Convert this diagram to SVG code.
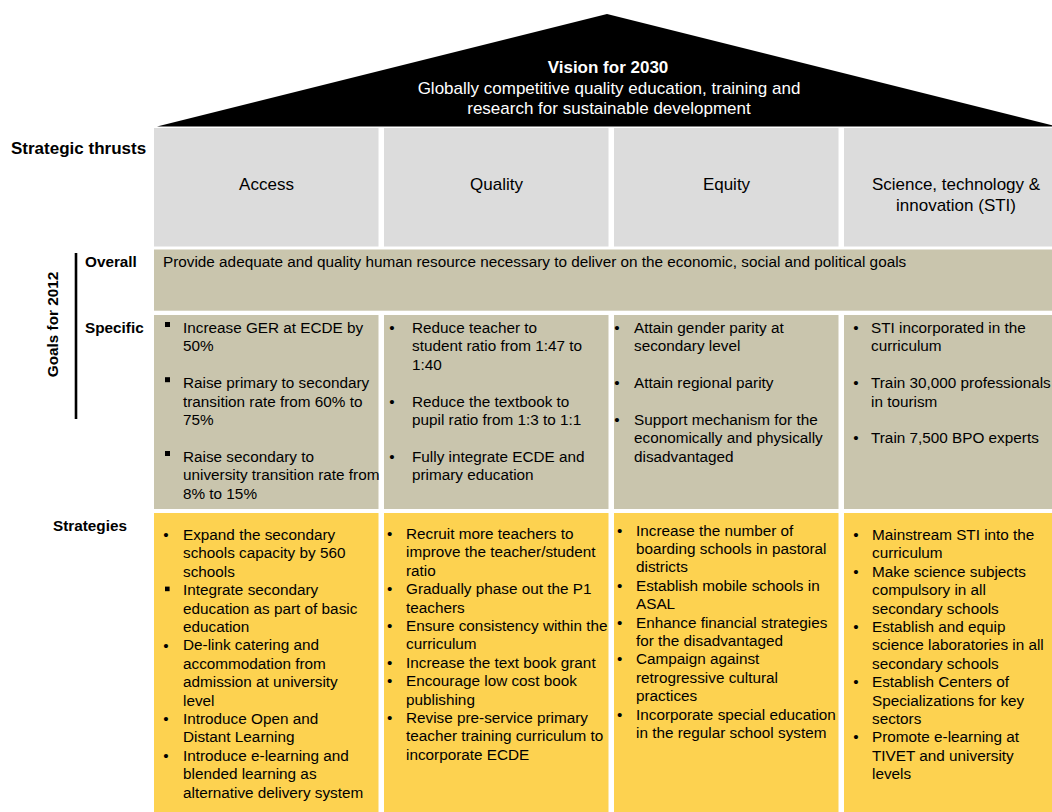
<svg xmlns="http://www.w3.org/2000/svg" width="1052" height="812" viewBox="0 0 1052 812">
<style>
text{font-family:"Liberation Sans",Arial,sans-serif;fill:#000}
.h{font-size:17px}
.hb{font-size:17px;font-weight:bold}
.lb{font-size:15.3px;font-weight:bold}
.t{font-size:15.3px}
.thrust{fill:#dcdcdc}
.goal{fill:#c9c5ad}
.strat{fill:#fdd250}
.sq{fill:#000}
</style>
<rect width="1052" height="812" fill="#fff"/>
<g id="vision">
<polygon points="157,126.5 607,14 1057,126.5" fill="#000"/>
<text class="hb" x="608" y="73" text-anchor="middle" style="fill:#fff">Vision for 2030</text>
<text class="h" x="609" y="94" text-anchor="middle" style="fill:#fff">Globally competitive quality education, training and</text>
<text class="h" x="609" y="114" text-anchor="middle" style="fill:#fff">research for sustainable development</text>
</g>
<g id="labels">
<text class="hb" x="11" y="154">Strategic thrusts</text>
<text class="lb" transform="translate(58,324.5) rotate(-90)" text-anchor="middle">Goals for 2012</text>
<line x1="76" y1="253" x2="76" y2="419" stroke="#000" stroke-width="2.6"/>
<text class="lb" x="85" y="267">Overall</text>
<text class="lb" x="85" y="333">Specific</text>
<text class="lb" x="53" y="531">Strategies</text>
</g>
<g id="thrust-access">
<rect class="thrust" x="154" y="128" width="224.5" height="118.5"/>
<text class="h" x="266.5" y="190" text-anchor="middle">Access</text>
</g>
<g id="thrust-quality">
<rect class="thrust" x="384" y="128" width="224.5" height="118.5"/>
<text class="h" x="496.5" y="190" text-anchor="middle">Quality</text>
</g>
<g id="thrust-equity">
<rect class="thrust" x="614" y="128" width="224.5" height="118.5"/>
<text class="h" x="726.5" y="190" text-anchor="middle">Equity</text>
</g>
<g id="thrust-sti">
<rect class="thrust" x="844" y="128" width="224.5" height="118.5"/>
<text class="h" x="956" y="190" text-anchor="middle">Science, technology &amp;</text>
<text class="h" x="956" y="211" text-anchor="middle">innovation (STI)</text>
</g>
<g id="goal-overall">
<rect class="goal" x="154" y="249.5" width="914" height="61.2"/>
<text class="t" x="163" y="267">Provide adequate and quality human resource necessary to deliver on the economic, social and political goals</text>
</g>
<g id="goal-access">
<rect class="goal" x="154" y="315" width="224.5" height="194"/>
<rect class="sq" x="165" y="322" width="5" height="5"/>
<rect class="sq" x="165" y="377.2" width="5" height="5"/>
<rect class="sq" x="165" y="451" width="5" height="5"/>
<text class="t" x="183" y="333">Increase GER at ECDE by</text>
<text class="t" x="183" y="351.4">50%</text>
<text class="t" x="183" y="388.2">Raise primary to secondary</text>
<text class="t" x="183" y="406.6">transition rate from 60% to</text>
<text class="t" x="183" y="425">75%</text>
<text class="t" x="183" y="461.8">Raise secondary to</text>
<text class="t" x="183" y="480.2">university transition rate from</text>
<text class="t" x="183" y="498.6">8% to 15%</text>
</g>
<g id="goal-quality">
<rect class="goal" x="384" y="315" width="224.5" height="194"/>
<text class="t" x="389.3" y="333">•</text>
<text class="t" x="389.3" y="406.6">•</text>
<text class="t" x="389.3" y="461.8">•</text>
<text class="t" x="412" y="333">Reduce teacher to</text>
<text class="t" x="412" y="351.4">student ratio from 1:47 to</text>
<text class="t" x="412" y="369.8">1:40</text>
<text class="t" x="412" y="406.6">Reduce the textbook to</text>
<text class="t" x="412" y="425">pupil ratio from 1:3 to 1:1</text>
<text class="t" x="412" y="461.8">Fully integrate ECDE and</text>
<text class="t" x="412" y="480.2">primary education</text>
</g>
<g id="goal-equity">
<rect class="goal" x="614" y="315" width="224.5" height="194"/>
<text class="t" x="614.3" y="333">•</text>
<text class="t" x="614.3" y="388.2">•</text>
<text class="t" x="614.3" y="425">•</text>
<text class="t" x="634" y="333">Attain gender parity at</text>
<text class="t" x="634" y="351.4">secondary level</text>
<text class="t" x="634" y="388.2">Attain regional parity</text>
<text class="t" x="634" y="425">Support mechanism for the</text>
<text class="t" x="634" y="443.4">economically and physically</text>
<text class="t" x="634" y="461.8">disadvantaged</text>
</g>
<g id="goal-sti">
<rect class="goal" x="844" y="315" width="224.5" height="194"/>
<text class="t" x="853.3" y="333">•</text>
<text class="t" x="853.3" y="388.2">•</text>
<text class="t" x="853.3" y="443.4">•</text>
<text class="t" x="871" y="333">STI incorporated in the</text>
<text class="t" x="871" y="351.4">curriculum</text>
<text class="t" x="871" y="388.2">Train 30,000 professionals</text>
<text class="t" x="871" y="406.6">in tourism</text>
<text class="t" x="871" y="443.4">Train 7,500 BPO experts</text>
</g>
<g id="strategy-access">
<rect class="strat" x="154" y="513" width="224.5" height="310"/>
<text class="t" x="163.3" y="540">•</text>
<rect class="sq" x="165" y="586.6" width="4.6" height="4.6"/>
<text class="t" x="163.3" y="650.8">•</text>
<text class="t" x="163.3" y="724.4">•</text>
<text class="t" x="163.3" y="761.2">•</text>
<text class="t" x="183" y="540">Expand the secondary</text>
<text class="t" x="183" y="558.4">schools capacity by 560</text>
<text class="t" x="183" y="576.8">schools</text>
<text class="t" x="183" y="595.2">Integrate secondary</text>
<text class="t" x="183" y="613.6">education as part of basic</text>
<text class="t" x="183" y="632">education</text>
<text class="t" x="183" y="650.4">De-link catering and</text>
<text class="t" x="183" y="668.8">accommodation from</text>
<text class="t" x="183" y="687.2">admission at university</text>
<text class="t" x="183" y="705.6">level</text>
<text class="t" x="183" y="724">Introduce Open and</text>
<text class="t" x="183" y="742.4">Distant Learning</text>
<text class="t" x="183" y="760.8">Introduce e-learning and</text>
<text class="t" x="183" y="779.2">blended learning as</text>
<text class="t" x="183" y="797.6">alternative delivery system</text>
</g>
<g id="strategy-quality">
<rect class="strat" x="384" y="513" width="224.5" height="310"/>
<text class="t" x="387" y="539">•</text>
<text class="t" x="387" y="594.2">•</text>
<text class="t" x="387" y="631">•</text>
<text class="t" x="387" y="667.8">•</text>
<text class="t" x="387" y="686.2">•</text>
<text class="t" x="387" y="723">•</text>
<text class="t" x="406" y="539">Recruit more teachers to</text>
<text class="t" x="406" y="557.4">improve the teacher/student</text>
<text class="t" x="406" y="575.8">ratio</text>
<text class="t" x="406" y="594.2">Gradually phase out the P1</text>
<text class="t" x="406" y="612.6">teachers</text>
<text class="t" x="406" y="631">Ensure consistency within the</text>
<text class="t" x="406" y="649.4">curriculum</text>
<text class="t" x="406" y="667.8">Increase the text book grant</text>
<text class="t" x="406" y="686.2">Encourage low cost book</text>
<text class="t" x="406" y="704.6">publishing</text>
<text class="t" x="406" y="723">Revise pre-service primary</text>
<text class="t" x="406" y="741.4">teacher training curriculum to</text>
<text class="t" x="406" y="759.8">incorporate ECDE</text>
</g>
<g id="strategy-equity">
<rect class="strat" x="614" y="513" width="224.5" height="310"/>
<text class="t" x="617" y="535.5">•</text>
<text class="t" x="617" y="590.7">•</text>
<text class="t" x="617" y="627.5">•</text>
<text class="t" x="617" y="664.3">•</text>
<text class="t" x="617" y="719.5">•</text>
<text class="t" x="636" y="535.5">Increase the number of</text>
<text class="t" x="636" y="553.9">boarding schools in pastoral</text>
<text class="t" x="636" y="572.3">districts</text>
<text class="t" x="636" y="590.7">Establish mobile schools in</text>
<text class="t" x="636" y="609.1">ASAL</text>
<text class="t" x="636" y="627.5">Enhance financial strategies</text>
<text class="t" x="636" y="645.9">for the disadvantaged</text>
<text class="t" x="636" y="664.3">Campaign against</text>
<text class="t" x="636" y="682.7">retrogressive cultural</text>
<text class="t" x="636" y="701.1">practices</text>
<text class="t" x="636" y="719.5">Incorporate special education</text>
<text class="t" x="636" y="737.9">in the regular school system</text>
</g>
<g id="strategy-sti">
<rect class="strat" x="844" y="513" width="224.5" height="310"/>
<text class="t" x="853.3" y="540">•</text>
<text class="t" x="853.3" y="576.8">•</text>
<text class="t" x="853.3" y="632">•</text>
<text class="t" x="853.3" y="687.2">•</text>
<text class="t" x="853.3" y="742.4">•</text>
<text class="t" x="872" y="540">Mainstream STI into the</text>
<text class="t" x="872" y="558.4">curriculum</text>
<text class="t" x="872" y="576.8">Make science subjects</text>
<text class="t" x="872" y="595.2">compulsory in all</text>
<text class="t" x="872" y="613.6">secondary schools</text>
<text class="t" x="872" y="632">Establish and equip</text>
<text class="t" x="872" y="650.4">science laboratories in all</text>
<text class="t" x="872" y="668.8">secondary schools</text>
<text class="t" x="872" y="687.2">Establish Centers of</text>
<text class="t" x="872" y="705.6">Specializations for key</text>
<text class="t" x="872" y="724">sectors</text>
<text class="t" x="872" y="742.4">Promote e-learning at</text>
<text class="t" x="872" y="760.8">TIVET and university</text>
<text class="t" x="872" y="779.2">levels</text>
</g>
</svg>
